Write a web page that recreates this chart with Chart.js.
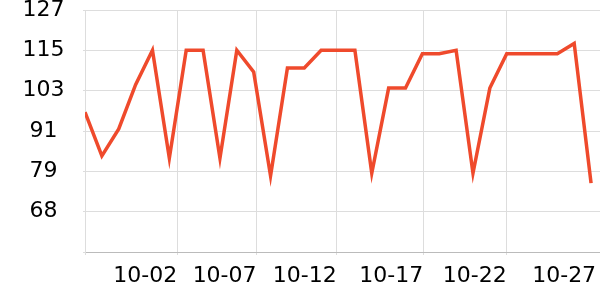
<!DOCTYPE html>
<html>
<head>
<meta charset="utf-8">
<script src="https://cdn.jsdelivr.net/npm/chart.js@4"></script>
<style>
    html, body { margin: 0; padding: 0; background: #fff; }
    #wrap { width: 600px; height: 300px; }
</style>
</head>
<body>
<div id="wrap"><canvas id="chart"></canvas></div>
<script>
// Daily values, one per day (index 0 = first day shown)
const values = [97, 84.2, 92.1, 105.1, 115.2, 83.5, 115.2, 115.2, 83.5, 115.2,
    108.8, 78.3, 110, 110, 115.2, 115.2, 115.2, 79.1, 104.1, 104.1,
    114.2, 114.2, 115.2, 79.1, 104.1, 114.2, 114.2, 114.2, 114.2, 117.2, 76.2];

// x ticks in day units, with their labels
const xTickDays = [0, 5.47, 10.17, 14.92, 20.05, 25.0, 30.3];
const xTickLabels = ['', '10-02', '10-07', '10-12', '10-17', '10-22', '10-27'];

// y ticks and the labels shown for them
const yTickValues = [56, 67.83, 79.67, 91.5, 103.33, 115.17, 127];
const yTickLabels = ['', '68', '79', '91', '103', '115', '127'];

const font = { family: 'DejaVu Sans', size: 22 };

new Chart(document.getElementById('chart').getContext('2d'), {
    type: 'line',
    data: {
        datasets: [{
            data: values.map((v, i) => ({ x: i, y: v })),
            borderColor: '#ef4a2c',
            borderWidth: 3.5,
            pointRadius: 0,
            tension: 0,
            fill: false,
        }],
    },
    options: {
        responsive: true,
        maintainAspectRatio: false,
        animation: false,
        layout: { padding: { top: 10, right: 0, bottom: 0, left: 0 } },
        plugins: {
            legend: { display: false },
            tooltip: { enabled: false },
        },
        scales: {
            x: {
                type: 'linear',
                min: 0,
                max: 30.53,
                afterBuildTicks: (scale) => {
                    scale.ticks = xTickDays.map(v => ({ value: v }));
                },
                afterFit: (scale) => {
                    scale.height = 48;
                    scale.paddingLeft = 0;
                    scale.paddingRight = 0;
                },
                ticks: {
                    autoSkip: false,
                    maxRotation: 0,
                    minRotation: 0,
                    align: 'end',
                    padding: 8,
                    color: '#000',
                    font: font,
                    callback: (v, i) => xTickLabels[i],
                },
                grid: {
                    color: (ctx) => ctx.index === xTickDays.length - 1 ? 'rgba(0,0,0,0)' : '#dddddd',
                    tickLength: 3,
                },
                border: { color: '#bbbbbb' },
            },
            y: {
                min: yTickValues[0],
                max: yTickValues[yTickValues.length - 1],
                afterBuildTicks: (scale) => {
                    scale.ticks = yTickValues.map(v => ({ value: v }));
                },
                afterFit: (scale) => {
                    scale.width = 85;
                    scale.paddingTop = 0;
                    scale.paddingBottom = 0;
                },
                ticks: {
                    crossAlign: 'center',
                    padding: 18.5,
                    color: '#000',
                    font: font,
                    callback: (v, i) => yTickLabels[i],
                },
                grid: { color: '#dddddd', tickLength: 2 },
                border: { color: '#dddddd' },
            },
        },
    },
});
</script>
</body>
</html>
